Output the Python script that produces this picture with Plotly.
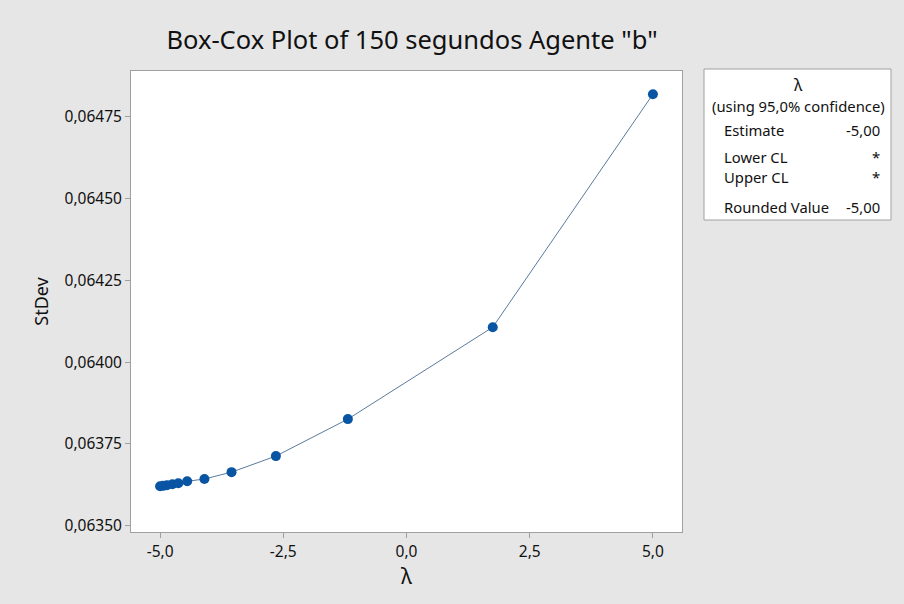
import plotly.graph_objects as go

# ---- data ----
lam = [-5.00, -4.94, -4.86, -4.75, -4.63, -4.45, -4.10, -3.55, -2.65, -1.19, 1.75, 5.00]
stdev = [0.063621, 0.063622, 0.063624, 0.063627, 0.063630, 0.063636, 0.063643,
         0.063664, 0.063713, 0.063826, 0.064107, 0.064819]

x_tickvals = [-5.0, -2.5, 0.0, 2.5, 5.0]
x_ticktext = ["-5,0", "-2,5", "0,0", "2,5", "5,0"]
y_tickvals = [0.06350, 0.06375, 0.06400, 0.06425, 0.06450, 0.06475]
y_ticktext = ["0,06350", "0,06375", "0,06400", "0,06425", "0,06450", "0,06475"]

title = 'Box-Cox Plot of 150 segundos Agente "b"'
box_header = ["λ", "(using 95,0% confidence)"]
box_labels = ["Estimate", "Lower CL", "Upper CL", "Rounded Value"]
box_values = ["-5,00", "*", "*", "-5,00"]

# ---- layout geometry (pixels) ----
W, H = 904, 604
L, R, T, B = 131, 682, 71, 532
FONT = "Noto Sans"

def px(x):
    return (x - L) / (R - L)

def py(y):
    return (B - y) / (B - T)

fig = go.Figure()
fig.add_trace(go.Scatter(
    x=lam, y=stdev, mode="lines+markers",
    line=dict(color="#5b7b9b", width=1),
    marker=dict(color="#0a55a3", size=10),
    showlegend=False, hoverinfo="x+y",
))

axis_common = dict(
    showline=True, linecolor="#a0a0a0", linewidth=1, mirror=True,
    ticks="outside", ticklen=5, tickcolor="#a0a0a0",
    showgrid=False, zeroline=False,
    tickfont=dict(family=FONT, size=15.5, color="#111111"),
)

fig.update_layout(
    width=W, height=H,
    margin=dict(l=L, r=W - R, t=T, b=H - B, pad=0),
    paper_bgcolor="#e6e6e6", plot_bgcolor="white",
    title=dict(text=title, x=412 / W, xanchor="center", y=1 - 40 / H, yanchor="middle",
               font=dict(family=FONT, size=25.5, color="#111111")),
    xaxis=dict(range=[-5.59, 5.59], tickvals=x_tickvals, ticktext=x_ticktext,
               title=dict(text="λ", font=dict(family=FONT, size=21, color="#111111"), standoff=3),
               **axis_common),
    yaxis=dict(range=[0.063481, 0.064890], tickvals=y_tickvals, ticktext=y_ticktext,
               title=dict(text="StDev", font=dict(family=FONT, size=18, color="#111111"), standoff=11),
               **axis_common),
)

# info box
fig.add_shape(type="rect", xref="paper", yref="paper",
              x0=px(704), x1=px(891), y0=py(220), y1=py(69),
              line=dict(color="#a0a0a0", width=1), fillcolor="white")

ann_font = dict(family=FONT, size=14.8, color="#111111")
fig.add_annotation(text=box_header[0], xref="paper", yref="paper", x=px(798), y=py(85),
                   xanchor="center", yanchor="middle", showarrow=False,
                   font=dict(family=FONT, size=16, color="#111111"))
fig.add_annotation(text=box_header[1], xref="paper", yref="paper", x=px(798), y=py(106),
                   xanchor="center", yanchor="middle", showarrow=False, font=ann_font)
row_y = [130, 157, 177, 207]
for lab, val, yy in zip(box_labels, box_values, row_y):
    fig.add_annotation(text=lab, xref="paper", yref="paper", x=px(722), y=py(yy),
                       xanchor="left", yanchor="middle", showarrow=False, font=ann_font)
    fig.add_annotation(text=val, xref="paper", yref="paper", x=px(882), y=py(yy),
                       xanchor="right", yanchor="middle", showarrow=False, font=ann_font)

fig.write_html("out.html")
